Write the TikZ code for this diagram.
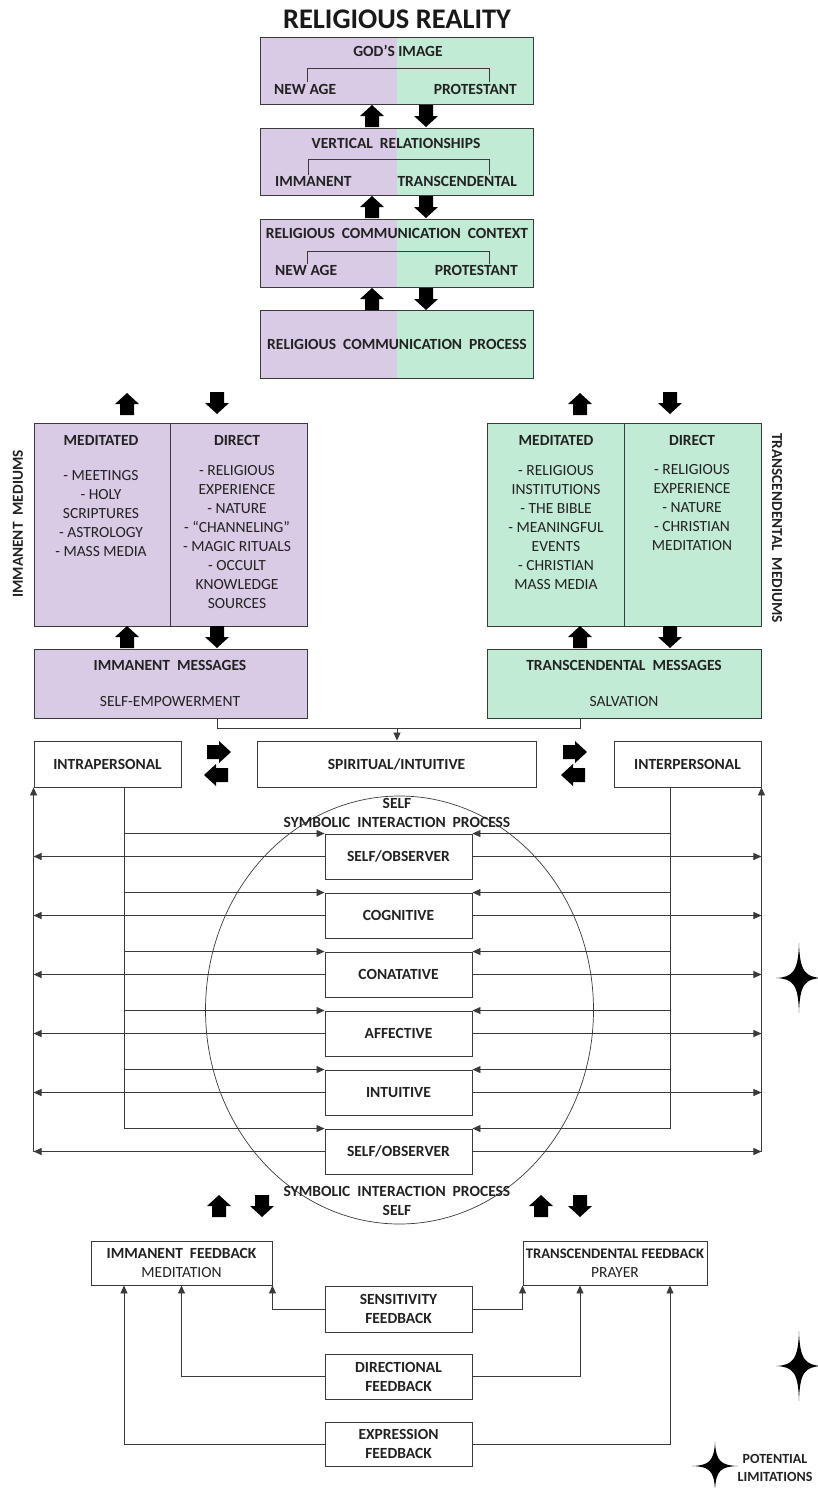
\documentclass[tikz,border=0pt]{standalone}
\usepackage{fontspec}
\setmainfont{Carlito}
\usetikzlibrary{arrows.meta,calc}
\definecolor{purp}{HTML}{D9CAE5}
\definecolor{grn}{HTML}{C1EBD5}
\definecolor{ln}{HTML}{3A3A3A}
\definecolor{txt}{HTML}{222222}
\begin{document}
\begin{tikzpicture}[x=1pt,y=-1pt,
  every node/.style={text=txt, inner sep=0pt},
  frame/.style={draw=ln, line width=0.9pt, rectangle},
  wbox/.style={frame, fill=white, font=\bfseries\fontsize{15.5}{19}\selectfont, align=center},
  lbl/.style={font=\bfseries\fontsize{15.5}{19}\selectfont},
  reg/.style={font=\fontsize{15.5}{19}\selectfont, align=center},
  arr/.style={draw=ln, line width=0.8pt, -{Triangle[length=8pt,width=7pt]}},
  thinl/.style={draw=ln, line width=0.8pt},
  twobox/.style={frame, minimum width=273pt, minimum height=#1,
    path picture={\fill[purp] (path picture bounding box.north west) rectangle (path picture bounding box.south);
                  \fill[grn] (path picture bounding box.north) rectangle (path picture bounding box.south east);}},
  fatup/.pic={\fill[black] (-7,0) -- (-7,-11) -- (-12,-11) -- (0,-22) -- (12,-11) -- (7,-11) -- (7,0) -- cycle;},
  fatdown/.pic={\fill[black] (-7,0) -- (-7,11) -- (-12,11) -- (0,22) -- (12,11) -- (7,11) -- (7,0) -- cycle;},
  fatright/.pic={\fill[black] (0,-7) -- (12,-7) -- (12,-11) -- (24,0) -- (12,11) -- (12,7) -- (0,7) -- cycle;},
  fatleft/.pic={\fill[black] (0,-7) -- (-12,-7) -- (-12,-11) -- (-24,0) -- (-12,11) -- (-12,7) -- (0,7) -- cycle;},
  star/.pic={\fill[black] (0,-35) .. controls (0.8,-7) and (6,-0.8) .. (23,0) .. controls (6,0.8) and (0.8,6) .. (0,35)
     .. controls (-0.8,6) and (-6,0.8) .. (-23,0) .. controls (-6,-0.8) and (-0.8,-7) .. cycle;}
]
\useasboundingbox (0,0) rectangle (817,1488);

% ---------- title ----------
\node[font=\bfseries\fontsize{28.4}{32}\selectfont, text=black!90] (title) at (397,19) {RELIGIOUS REALITY};

% ---------- top boxes ----------
\node[twobox=67pt] (god)  at (396.5,70.5) {};
\node[twobox=67pt] (vert) at (396.5,161.5) {};
\node[twobox=68pt] (ctx)  at (396.5,253) {};
\node[twobox=68pt] (proc) at (396.5,344) {};

\node[lbl] (godt) at (398,51) {GOD’S IMAGE};
\draw[thinl] (307,82) -- (307,68) -- (489,68) -- (489,82);
\node[lbl, anchor=west] (na1) at (274,89) {NEW AGE};
\node[lbl, anchor=east] (pr1) at (517,89) {PROTESTANT};

\node[lbl] (vertt) at (396,143) {VERTICAL\ \ RELATIONSHIPS};
\draw[thinl] (308,175) -- (308,159) -- (489,159) -- (489,175);
\node[lbl, anchor=west] (imm1) at (275,181) {IMMANENT};
\node[lbl, anchor=east] (tr1) at (517,181) {TRANSCENDENTAL};

\node[lbl] (ctxt) at (397,233) {RELIGIOUS\ \ COMMUNICATION\ \ CONTEXT};
\draw[thinl] (307,264) -- (307,251) -- (489,251) -- (489,264);
\node[lbl, anchor=west] (na2) at (275,270) {NEW AGE};
\node[lbl, anchor=east] (pr2) at (518,270) {PROTESTANT};

\node[lbl] (proct) at (397,344) {RELIGIOUS\ \ COMMUNICATION\ \ PROCESS};

\pic at (372,127) {fatup};  \pic at (426,105) {fatdown};
\pic at (372,218) {fatup};  \pic at (426,196) {fatdown};
\pic at (372,310) {fatup};  \pic at (426,288) {fatdown};

% ---------- mediums ----------
\pic at (127,415) {fatup};  \pic at (217,392) {fatdown};
\pic at (580,415) {fatup};  \pic at (670,392) {fatdown};

\node[frame, fill=purp, minimum width=273pt, minimum height=203pt] (imed) at (170.5,524.5) {};
\draw[thinl] (170,423) -- (170,626);
\node[frame, fill=grn, minimum width=274pt, minimum height=203pt] (tmed) at (624,524.5) {};
\draw[thinl] (624,423) -- (624,626);

\node[lbl] (h1) at (101,440) {MEDITATED};
\node[lbl] (h2) at (237,440) {DIRECT};
\node[lbl] (h3) at (556,440) {MEDITATED};
\node[lbl] (h4) at (692,440) {DIRECT};

\node[reg, anchor=north] (l1) at (101,470) {- MEETINGS\\- HOLY\\SCRIPTURES\\- ASTROLOGY\\- MASS MEDIA};
\node[reg, anchor=north] (l2) at (237,465) {- RELIGIOUS\\EXPERIENCE\\- NATURE\\- “CHANNELING”\\- MAGIC RITUALS\\- OCCULT\\KNOWLEDGE\\SOURCES};
\node[reg, anchor=north] (l3) at (556,465) {- RELIGIOUS\\INSTITUTIONS\\- THE BIBLE\\- MEANINGFUL\\EVENTS\\- CHRISTIAN\\MASS MEDIA};
\node[reg, anchor=north] (l4) at (692,464) {- RELIGIOUS\\EXPERIENCE\\- NATURE\\- CHRISTIAN\\MEDITATION};

\node[lbl, rotate=90, font=\bfseries\fontsize{15.3}{18}\selectfont] (imlab) at (18,524) {IMMANENT\ \ MEDIUMS};
\node[lbl, rotate=-90, font=\bfseries\fontsize{15.3}{18}\selectfont] (trlab) at (777,528) {TRANSCENDENTAL\ \ MEDIUMS};

\pic at (127,648) {fatup};  \pic at (217,626) {fatdown};
\pic at (580,648) {fatup};  \pic at (670,626) {fatdown};

% ---------- messages ----------
\node[frame, fill=purp, minimum width=273pt, minimum height=69pt] (imsg) at (170.5,683.5) {};
\node[frame, fill=grn, minimum width=274pt, minimum height=69pt] (tmsg) at (624,683.5) {};
\node[lbl] (imsgt) at (170,665) {IMMANENT\ \ MESSAGES};
\node[reg] (imsgs) at (170,702) {SELF-EMPOWERMENT};
\node[lbl] (tmsgt) at (624,665) {TRANSCENDENTAL\ \ MESSAGES};
\node[reg] (tmsgs) at (624,702) {SALVATION};

% ---------- row ----------
\node[wbox, minimum width=147pt, minimum height=46pt] (intra) at (107.5,764) {INTRAPERSONAL};
\node[wbox, minimum width=279pt, minimum height=46pt] (spirit) at (396.5,764) {SPIRITUAL/INTUITIVE};
\node[wbox, minimum width=147pt, minimum height=46pt] (inter) at (687.5,764) {INTERPERSONAL};

\coordinate (ja) at (217,728);
\coordinate (jb) at (580,728);
\coordinate (jm) at (397,728);
\draw[thinl] (imsg.south -| ja) -- (ja) -- (jb) -- (tmsg.south -| jb);
\draw[arr] (jm) -- (spirit.north -| jm);

\pic at (207,752) {fatright}; \pic at (228,775) {fatleft};
\pic at (563,752) {fatright}; \pic at (585,775) {fatleft};

% ---------- symbolic interaction ----------
\draw[draw=ln, line width=0.7pt] (399.5,1010) ellipse [x radius=194, y radius=214];
\node[lbl] (selft) at (397,803) {SELF};
\node[lbl] (symt) at (397,822) {SYMBOLIC\ \ INTERACTION\ \ PROCESS};
\node[lbl] (symb) at (397,1191) {SYMBOLIC\ \ INTERACTION\ \ PROCESS};
\node[lbl] (selfb) at (397,1210) {SELF};

\coordinate (li) at (124,0);
\coordinate (ri) at (670,0);

\foreach \i/\t in {0/{SELF/OBSERVER},1/COGNITIVE,2/CONATATIVE,3/AFFECTIVE,4/INTUITIVE,5/{SELF/OBSERVER}}{
  \node[wbox, minimum width=147pt, minimum height=45pt] (c\i) at (398.5,856.5+59*\i) {\t};
  \draw[arr] (c\i.north west -| li) -- (c\i.north west);
  \draw[arr] (c\i.north east -| ri) -- (c\i.north east);
  \draw[arr] (c\i.west) -- (c\i.west -| intra.west);
  \draw[arr] (c\i.east) -- (c\i.east -| inter.east);
}
\draw[thinl] (intra.south -| li) -- (c5.north west -| li);
\draw[thinl] (inter.south -| ri) -- (c5.north east -| ri);
\draw[arr] (c5.west -| intra.west) -- (intra.south west);
\draw[arr] (c5.east -| inter.east) -- (inter.south east);

\pic at (799,978) {star};

% ---------- feedback ----------
\pic at (219,1217) {fatup};  \pic at (262,1195) {fatdown};
\pic at (541,1217) {fatup};  \pic at (580,1195) {fatdown};

\node[wbox, minimum width=181pt, minimum height=44pt] (imfb) at (181.5,1263) {IMMANENT\ \ FEEDBACK\\{\mdseries MEDITATION}};
\node[wbox, minimum width=184pt, minimum height=44pt, font=\bfseries\fontsize{14.6}{19}\selectfont] (trfb) at (615,1263) {TRANSCENDENTAL FEEDBACK\\{\mdseries\fontsize{15.5}{19}\selectfont PRAYER}};

\node[wbox, minimum width=147pt, minimum height=46pt] (sens) at (398.5,1309) {SENSITIVITY\\FEEDBACK};
\node[wbox, minimum width=147pt, minimum height=45pt] (dirf) at (398.5,1376.5) {DIRECTIONAL\\FEEDBACK};
\node[wbox, minimum width=147pt, minimum height=44pt] (expf) at (398.5,1444) {EXPRESSION\\FEEDBACK};

\coordinate (d2) at (580,0);
\draw[arr] (sens.west) -| (imfb.south east);
\draw[arr] (sens.east) -| (trfb.south west);
\draw[arr] (dirf.west) -| (imfb.south);
\draw[arr] (dirf.east) -| (trfb.south -| d2);
\draw[arr] (expf.west) -| (imfb.south -| li);
\draw[arr] (expf.east) -| (trfb.south -| ri);

\pic at (799,1366) {star};
\pic[yscale=0.7] at (715,1466) {star};
\node[font=\bfseries\fontsize{14}{18}\selectfont, align=center] (legend) at (775,1468) {POTENTIAL\\LIMITATIONS};

\end{tikzpicture}
\end{document}
